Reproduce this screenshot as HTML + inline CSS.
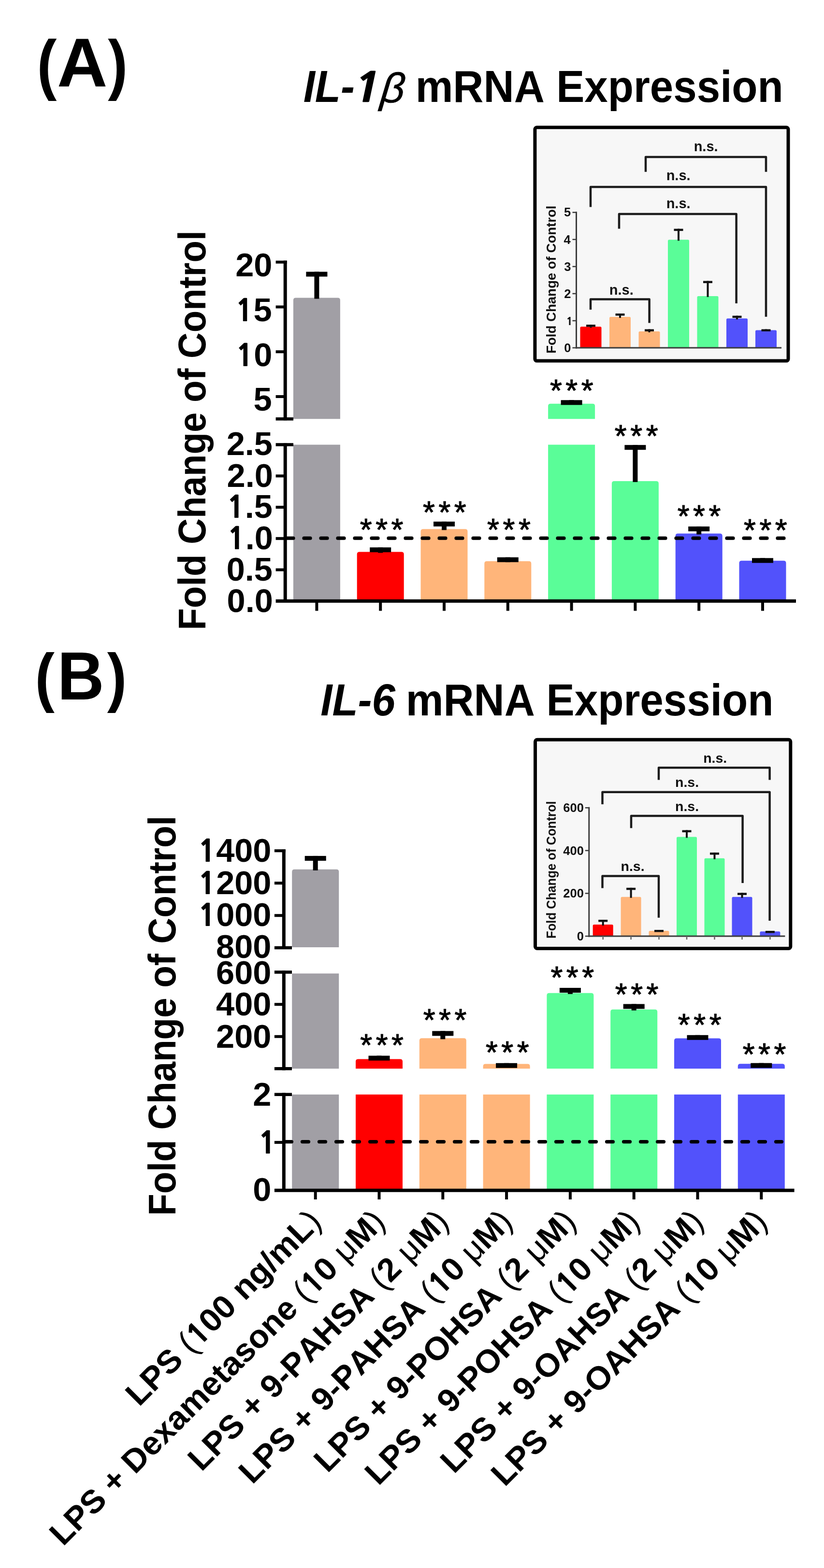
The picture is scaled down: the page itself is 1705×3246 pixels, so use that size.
<!DOCTYPE html>
<html><head><meta charset="utf-8"><title>IL-1β and IL-6 mRNA Expression</title>
<style>
html,body{margin:0;padding:0;background:#fff;}
body{width:1705px;height:3246px;overflow:hidden;}
svg{display:block;font-family:'Liberation Sans', Arial, sans-serif;font-kerning:none;font-variant-ligatures:none;}
</style></head><body>
<svg width="1705" height="3246" viewBox="0 0 1705 3246">
<rect x="0" y="0" width="1705" height="3246" fill="#fff"/>
<text transform="translate(76.48,179.56) scale(0.9000,1.0000)" font-size="136.43" font-weight="bold" fill="#000">(</text>
<text transform="translate(223.23,179.56) scale(0.9000,1.0000)" font-size="136.43" font-weight="bold" fill="#000">)</text>
<text transform="translate(118.1,179) scale(1.0109,1.0000)" font-size="142.88" font-weight="bold" fill="#000">A</text>
<text transform="translate(72.56,1448.19) scale(0.9000,1.0000)" font-size="134.82" font-weight="bold" fill="#000">(</text>
<text transform="translate(221.64,1448.19) scale(0.9000,1.0000)" font-size="134.82" font-weight="bold" fill="#000">)</text>
<text transform="translate(118.64,1447.9) scale(0.9463,1.0000)" font-size="141.57" font-weight="bold" fill="#000">B</text>
<text transform="translate(627.67,211.1) scale(1.0112,1.0766)" font-size="86" font-weight="bold" font-style="italic" fill="#000">IL-</text>
<text transform="translate(724.29,211.1) skewX(-12) scale(1.3000,1.0766)" font-size="86" font-weight="bold"><tspan font-family="NanumGothic, 'Liberation Sans', sans-serif" font-weight="800" font-size="77.66">1</tspan></text>
<text transform="translate(785.7,211.59) skewX(-6) scale(0.9963,1)" font-size="86.79" font-weight="normal" font-style="italic" stroke="#000" stroke-width="0.7">β</text>
<text transform="translate(859.64,211.1) scale(1.0167,1.0766)" font-size="86" font-weight="bold" fill="#000">mRNA</text>
<text transform="translate(1151.27,211.1) scale(1.0127,1.0766)" font-size="86" font-weight="bold" fill="#000">Expression</text>
<text transform="translate(663.27,1481.3) scale(1.0122,1.0783)" font-size="86" font-weight="bold" font-style="italic" fill="#000">IL-6</text>
<text transform="translate(839.74,1481.3) scale(1.0167,1.0783)" font-size="86" font-weight="bold" fill="#000">mRNA</text>
<text transform="translate(1130.57,1481.3) scale(1.0136,1.0783)" font-size="86" font-weight="bold" fill="#000">Expression</text>
<path d="M606.9,867.3 V621.5 Q606.9,616.5 611.9,616.5 H698.9 Q703.9,616.5 703.9,621.5 V867.3 Z" fill="#a19fa5"/>
<rect x="606.9" y="920.6" width="97" height="323.7" fill="#a19fa5"/>
<path d="M738.7,1244.3 V1147.5 Q738.7,1142.5 743.7,1142.5 H830.7 Q835.7,1142.5 835.7,1147.5 V1244.3 Z" fill="#ff0000"/>
<path d="M870.5,1244.3 V1100.3 Q870.5,1095.3 875.5,1095.3 H962.5 Q967.5,1095.3 967.5,1100.3 V1244.3 Z" fill="#ffb57a"/>
<path d="M1002.3,1244.3 V1166.8 Q1002.3,1161.8 1007.3,1161.8 H1094.3 Q1099.3,1161.8 1099.3,1166.8 V1244.3 Z" fill="#ffb57a"/>
<path d="M1134.1,867.3 V840.7 Q1134.1,835.7 1139.1,835.7 H1226.1 Q1231.1,835.7 1231.1,840.7 V867.3 Z" fill="#5afd98"/>
<rect x="1134.1" y="920.6" width="97" height="323.7" fill="#5afd98"/>
<path d="M1265.9,1244.3 V1000.9 Q1265.9,995.9 1270.9,995.9 H1357.9 Q1362.9,995.9 1362.9,1000.9 V1244.3 Z" fill="#5afd98"/>
<path d="M1397.7,1244.3 V1109.4 Q1397.7,1104.4 1402.7,1104.4 H1489.7 Q1494.7,1104.4 1494.7,1109.4 V1244.3 Z" fill="#5252fb"/>
<path d="M1529.5,1244.3 V1165.7 Q1529.5,1160.7 1534.5,1160.7 H1621.5 Q1626.5,1160.7 1626.5,1165.7 V1244.3 Z" fill="#5252fb"/>
<rect x="633.4" y="562.6" width="44" height="10" fill="#000"/>
<rect x="650.4" y="562.6" width="10" height="55.9" fill="#000"/>
<rect x="765.2" y="1133.2" width="44" height="10" fill="#000"/>
<rect x="782.2" y="1133.2" width="10" height="11.3" fill="#000"/>
<rect x="897" y="1079.8" width="44" height="10" fill="#000"/>
<rect x="914" y="1079.8" width="10" height="17.5" fill="#000"/>
<rect x="1028.8" y="1153.7" width="44" height="10" fill="#000"/>
<rect x="1045.8" y="1153.7" width="10" height="10.1" fill="#000"/>
<rect x="1160.6" y="828.3" width="44" height="10" fill="#000"/>
<rect x="1177.6" y="828.3" width="10" height="9.4" fill="#000"/>
<rect x="1292.4" y="921.2" width="44" height="10" fill="#000"/>
<rect x="1309.4" y="921.2" width="10" height="76.7" fill="#000"/>
<rect x="1424.2" y="1089.9" width="44" height="10" fill="#000"/>
<rect x="1441.2" y="1089.9" width="10" height="16.5" fill="#000"/>
<rect x="1556" y="1155.3" width="44" height="10" fill="#000"/>
<rect x="1573" y="1155.3" width="10" height="7.4" fill="#000"/>
<line x1="594" y1="1114.2" x2="1626.5" y2="1114.2" stroke="#000" stroke-width="7.2" stroke-dasharray="13 22" stroke-linecap="round"/>
<line x1="590.2" y1="539.6" x2="590.2" y2="870.3" stroke="#000" stroke-width="7" />
<line x1="570.6" y1="542.6" x2="593.7" y2="542.6" stroke="#000" stroke-width="6" />
<line x1="570.6" y1="635.4" x2="590.2" y2="635.4" stroke="#000" stroke-width="6" />
<line x1="570.6" y1="728.2" x2="590.2" y2="728.2" stroke="#000" stroke-width="6" />
<line x1="570.6" y1="821" x2="590.2" y2="821" stroke="#000" stroke-width="6" />
<line x1="570.6" y1="867.3" x2="607" y2="867.3" stroke="#000" stroke-width="6.5" />
<line x1="590.2" y1="917.4" x2="590.2" y2="1244.3" stroke="#000" stroke-width="7" />
<line x1="570.6" y1="920.6" x2="607" y2="920.6" stroke="#000" stroke-width="6.5" />
<line x1="570.6" y1="985.3" x2="590.2" y2="985.3" stroke="#000" stroke-width="6" />
<line x1="570.6" y1="1050.05" x2="590.2" y2="1050.05" stroke="#000" stroke-width="6" />
<line x1="570.6" y1="1114.8" x2="590.2" y2="1114.8" stroke="#000" stroke-width="6" />
<line x1="570.6" y1="1179.55" x2="590.2" y2="1179.55" stroke="#000" stroke-width="6" />
<line x1="570.6" y1="1244.3" x2="1647" y2="1244.3" stroke="#000" stroke-width="7" />
<line x1="655.4" y1="1244.3" x2="655.4" y2="1264.5" stroke="#000" stroke-width="6" />
<line x1="787.2" y1="1244.3" x2="787.2" y2="1264.5" stroke="#000" stroke-width="6" />
<line x1="919" y1="1244.3" x2="919" y2="1264.5" stroke="#000" stroke-width="6" />
<line x1="1050.8" y1="1244.3" x2="1050.8" y2="1264.5" stroke="#000" stroke-width="6" />
<line x1="1182.6" y1="1244.3" x2="1182.6" y2="1264.5" stroke="#000" stroke-width="6" />
<line x1="1314.4" y1="1244.3" x2="1314.4" y2="1264.5" stroke="#000" stroke-width="6" />
<line x1="1446.2" y1="1244.3" x2="1446.2" y2="1264.5" stroke="#000" stroke-width="6" />
<line x1="1578" y1="1244.3" x2="1578" y2="1264.5" stroke="#000" stroke-width="6" />
<text transform="translate(487.22,571.68)" font-size="68.5" font-weight="bold" fill="#000">20</text>
<text transform="translate(486.93,664.97)" font-size="68.5" font-weight="bold" fill="#000"><tspan font-family="NanumGothic, 'Liberation Sans', sans-serif" font-weight="800" font-size="61.86">1</tspan>5</text>
<text transform="translate(487.83,757.58)" font-size="68.5" font-weight="bold" fill="#000"><tspan font-family="NanumGothic, 'Liberation Sans', sans-serif" font-weight="800" font-size="61.86">1</tspan>0</text>
<text transform="translate(524.41,849.83)" font-size="68.5" font-weight="bold" fill="#000">5</text>
<text transform="translate(468.68,942.48)" font-size="68.5" font-weight="bold" fill="#000">2.5</text>
<text transform="translate(469.59,1007.88)" font-size="68.5" font-weight="bold" fill="#000">2.0</text>
<text transform="translate(469.29,1072.47)" font-size="68.5" font-weight="bold" fill="#000"><tspan font-family="NanumGothic, 'Liberation Sans', sans-serif" font-weight="800" font-size="61.86">1</tspan>.5</text>
<text transform="translate(470.2,1136.98)" font-size="68.5" font-weight="bold" fill="#000"><tspan font-family="NanumGothic, 'Liberation Sans', sans-serif" font-weight="800" font-size="61.86">1</tspan>.0</text>
<text transform="translate(468.68,1202.18)" font-size="68.5" font-weight="bold" fill="#000">0.5</text>
<text transform="translate(469.59,1267.08)" font-size="68.5" font-weight="bold" fill="#000">0.0</text>
<text transform="translate(425.2,1304.58) rotate(-90) scale(0.9428,1.0000)" font-size="79" font-weight="bold" fill="#000">Fold Change of Control</text>
<text x="744.73 777.13 809.53" y="1118.53" font-size="64" font-weight="normal" stroke="#000" stroke-width="1.1" stroke-linejoin="round">***</text>
<text x="874.98 907.38 939.78" y="1083.13" font-size="64" font-weight="normal" stroke="#000" stroke-width="1.1" stroke-linejoin="round">***</text>
<text x="1008.08 1040.48 1072.88" y="1119.23" font-size="64" font-weight="normal" stroke="#000" stroke-width="1.1" stroke-linejoin="round">***</text>
<text x="1137.88 1170.28 1202.68" y="831.23" font-size="64" font-weight="normal" stroke="#000" stroke-width="1.1" stroke-linejoin="round">***</text>
<text x="1271.83 1304.23 1336.63" y="925.23" font-size="64" font-weight="normal" stroke="#000" stroke-width="1.1" stroke-linejoin="round">***</text>
<text x="1401.63 1434.03 1466.43" y="1090.93" font-size="64" font-weight="normal" stroke="#000" stroke-width="1.1" stroke-linejoin="round">***</text>
<text x="1538.98 1571.38 1603.78" y="1119.83" font-size="64" font-weight="normal" stroke="#000" stroke-width="1.1" stroke-linejoin="round">***</text>
<path d="M604.2,1961 V1804.8 Q604.2,1799.8 609.2,1799.8 H696.2 Q701.2,1799.8 701.2,1804.8 V1961 Z" fill="#a19fa5"/>
<rect x="604.2" y="2015.3" width="97" height="197" fill="#a19fa5"/>
<rect x="604.2" y="2265.8" width="97" height="198.4" fill="#a19fa5"/>
<path d="M736,2212.3 V2197.6 Q736,2192.6 741,2192.6 H828 Q833,2192.6 833,2197.6 V2212.3 Z" fill="#ff0000"/>
<rect x="736" y="2265.8" width="97" height="198.4" fill="#ff0000"/>
<path d="M867.8,2212.3 V2154.3 Q867.8,2149.3 872.8,2149.3 H959.8 Q964.8,2149.3 964.8,2154.3 V2212.3 Z" fill="#ffb57a"/>
<rect x="867.8" y="2265.8" width="97" height="198.4" fill="#ffb57a"/>
<path d="M999.6,2212.3 V2207.4 Q999.6,2202.5 1004.5,2202.5 H1091.7 Q1096.6,2202.5 1096.6,2207.4 V2212.3 Z" fill="#ffb57a"/>
<rect x="999.6" y="2265.8" width="97" height="198.4" fill="#ffb57a"/>
<path d="M1131.4,2212.3 V2060.8 Q1131.4,2055.8 1136.4,2055.8 H1223.4 Q1228.4,2055.8 1228.4,2060.8 V2212.3 Z" fill="#5afd98"/>
<rect x="1131.4" y="2265.8" width="97" height="198.4" fill="#5afd98"/>
<path d="M1263.2,2212.3 V2094.7 Q1263.2,2089.7 1268.2,2089.7 H1355.2 Q1360.2,2089.7 1360.2,2094.7 V2212.3 Z" fill="#5afd98"/>
<rect x="1263.2" y="2265.8" width="97" height="198.4" fill="#5afd98"/>
<path d="M1395,2212.3 V2154.6 Q1395,2149.6 1400,2149.6 H1487 Q1492,2149.6 1492,2154.6 V2212.3 Z" fill="#5252fb"/>
<rect x="1395" y="2265.8" width="97" height="198.4" fill="#5252fb"/>
<path d="M1526.8,2212.3 V2207.3 Q1526.8,2202.3 1531.8,2202.3 H1618.8 Q1623.8,2202.3 1623.8,2207.3 V2212.3 Z" fill="#5252fb"/>
<rect x="1526.8" y="2265.8" width="97" height="198.4" fill="#5252fb"/>
<rect x="630.7" y="1771.9" width="44" height="10" fill="#000"/>
<rect x="647.7" y="1771.9" width="10" height="29.9" fill="#000"/>
<rect x="762.5" y="2185.5" width="44" height="10" fill="#000"/>
<rect x="779.5" y="2185.5" width="10" height="9.1" fill="#000"/>
<rect x="894.3" y="2134.4" width="44" height="10" fill="#000"/>
<rect x="911.3" y="2134.4" width="10" height="16.9" fill="#000"/>
<rect x="1026.1" y="2200.8" width="44" height="10" fill="#000"/>
<rect x="1043.1" y="2200.8" width="10" height="3.7" fill="#000"/>
<rect x="1157.9" y="2045" width="44" height="10" fill="#000"/>
<rect x="1174.9" y="2045" width="10" height="12.8" fill="#000"/>
<rect x="1289.7" y="2078.5" width="44" height="10" fill="#000"/>
<rect x="1306.7" y="2078.5" width="10" height="13.2" fill="#000"/>
<rect x="1421.5" y="2142.8" width="44" height="10" fill="#000"/>
<rect x="1438.5" y="2142.8" width="10" height="8.8" fill="#000"/>
<rect x="1553.3" y="2200.7" width="44" height="10" fill="#000"/>
<rect x="1570.3" y="2200.7" width="10" height="3.6" fill="#000"/>
<line x1="590.5" y1="2363.6" x2="1617.5" y2="2363.6" stroke="#000" stroke-width="7.2" stroke-dasharray="13 22" stroke-linecap="round"/>
<line x1="587.3" y1="1758.5" x2="587.3" y2="1965" stroke="#000" stroke-width="7" />
<line x1="567.9" y1="1761.2" x2="590.8" y2="1761.2" stroke="#000" stroke-width="6" />
<line x1="567.9" y1="1828.2" x2="587.3" y2="1828.2" stroke="#000" stroke-width="6" />
<line x1="567.9" y1="1895.2" x2="587.3" y2="1895.2" stroke="#000" stroke-width="6" />
<line x1="567.9" y1="1962" x2="604" y2="1962" stroke="#000" stroke-width="6.5" />
<line x1="587.3" y1="2009.4" x2="587.3" y2="2215.5" stroke="#000" stroke-width="7" />
<line x1="567.9" y1="2012.6" x2="604" y2="2012.6" stroke="#000" stroke-width="6.5" />
<line x1="567.9" y1="2079.2" x2="587.3" y2="2079.2" stroke="#000" stroke-width="6" />
<line x1="567.9" y1="2145.8" x2="587.3" y2="2145.8" stroke="#000" stroke-width="6" />
<line x1="567.9" y1="2212.3" x2="604" y2="2212.3" stroke="#000" stroke-width="6.5" />
<line x1="587.3" y1="2262.6" x2="587.3" y2="2464.2" stroke="#000" stroke-width="7" />
<line x1="567.9" y1="2265.8" x2="604" y2="2265.8" stroke="#000" stroke-width="6.5" />
<line x1="567.9" y1="2364.9" x2="587.3" y2="2364.9" stroke="#000" stroke-width="6" />
<line x1="567.9" y1="2464.2" x2="1643.6" y2="2464.2" stroke="#000" stroke-width="7" />
<line x1="652.7" y1="2464.2" x2="652.7" y2="2483" stroke="#000" stroke-width="6" />
<line x1="784.5" y1="2464.2" x2="784.5" y2="2483" stroke="#000" stroke-width="6" />
<line x1="916.3" y1="2464.2" x2="916.3" y2="2483" stroke="#000" stroke-width="6" />
<line x1="1048.1" y1="2464.2" x2="1048.1" y2="2483" stroke="#000" stroke-width="6" />
<line x1="1179.9" y1="2464.2" x2="1179.9" y2="2483" stroke="#000" stroke-width="6" />
<line x1="1311.7" y1="2464.2" x2="1311.7" y2="2483" stroke="#000" stroke-width="6" />
<line x1="1443.5" y1="2464.2" x2="1443.5" y2="2483" stroke="#000" stroke-width="6" />
<line x1="1575.3" y1="2464.2" x2="1575.3" y2="2483" stroke="#000" stroke-width="6" />
<text transform="translate(409.64,1784.38)" font-size="68.5" font-weight="bold" fill="#000"><tspan font-family="NanumGothic, 'Liberation Sans', sans-serif" font-weight="800" font-size="61.86">1</tspan>400</text>
<text transform="translate(409.64,1851.08)" font-size="68.5" font-weight="bold" fill="#000"><tspan font-family="NanumGothic, 'Liberation Sans', sans-serif" font-weight="800" font-size="61.86">1</tspan>200</text>
<text transform="translate(409.64,1917.28)" font-size="68.5" font-weight="bold" fill="#000"><tspan font-family="NanumGothic, 'Liberation Sans', sans-serif" font-weight="800" font-size="61.86">1</tspan>000</text>
<text transform="translate(447.12,1982.98)" font-size="68.5" font-weight="bold" fill="#000">800</text>
<text transform="translate(447.12,2036.78)" font-size="68.5" font-weight="bold" fill="#000">600</text>
<text transform="translate(447.12,2102.38)" font-size="68.5" font-weight="bold" fill="#000">400</text>
<text transform="translate(447.12,2168.88)" font-size="68.5" font-weight="bold" fill="#000">200</text>
<text transform="translate(523.25,2288.71)" font-size="68.5" font-weight="bold" fill="#000">2</text>
<text transform="translate(534.35,2387.81)" font-size="68.5" font-weight="bold" fill="#000"><tspan font-family="NanumGothic, 'Liberation Sans', sans-serif" font-weight="800" font-size="61.86">1</tspan></text>
<text transform="translate(523.31,2486.08)" font-size="68.5" font-weight="bold" fill="#000">0</text>
<text transform="translate(362.9,2516.79) rotate(-90) scale(0.9436,1.0000)" font-size="79" font-weight="bold" fill="#000">Fold Change of Control</text>
<text x="745.23 777.63 810.03" y="2186.13" font-size="64" font-weight="normal" stroke="#000" stroke-width="1.1" stroke-linejoin="round">***</text>
<text x="875.63 908.03 940.43" y="2134.03" font-size="64" font-weight="normal" stroke="#000" stroke-width="1.1" stroke-linejoin="round">***</text>
<text x="1004.93 1037.33 1069.73" y="2201.43" font-size="64" font-weight="normal" stroke="#000" stroke-width="1.1" stroke-linejoin="round">***</text>
<text x="1139.43 1171.83 1204.23" y="2046.33" font-size="64" font-weight="normal" stroke="#000" stroke-width="1.1" stroke-linejoin="round">***</text>
<text x="1272.73 1305.13 1337.53" y="2081.03" font-size="64" font-weight="normal" stroke="#000" stroke-width="1.1" stroke-linejoin="round">***</text>
<text x="1402.83 1435.23 1467.63" y="2143.73" font-size="64" font-weight="normal" stroke="#000" stroke-width="1.1" stroke-linejoin="round">***</text>
<text x="1536.63 1569.03 1601.43" y="2204.73" font-size="64" font-weight="normal" stroke="#000" stroke-width="1.1" stroke-linejoin="round">***</text>
<g transform="translate(287.66,2913.54) rotate(-45) scale(1.0198,1)"><text x="0" y="0" font-size="67.5" font-weight="bold">LPS </text><text x="150.03" y="0" font-size="67.5" font-weight="normal">(</text><text x="172.51" y="0" font-size="67.5" font-weight="bold"><tspan font-family="NanumGothic, 'Liberation Sans', sans-serif" font-weight="800" font-size="60.95">1</tspan>00 ng/mL</text><text x="505.75" y="0" font-size="67.5" font-weight="normal">)</text></g>
<g transform="translate(130.49,3202.51) rotate(-45) scale(1.0111,1)"><text x="0" y="0" font-size="67.5" font-weight="bold">LPS + Dexametasone </text><text x="703.44" y="0" font-size="67.5" font-weight="normal">(</text><text x="725.92" y="0" font-size="67.5" font-weight="bold"><tspan font-family="NanumGothic, 'Liberation Sans', sans-serif" font-weight="800" font-size="60.95">1</tspan>0 </text><text x="819.15" y="0" font-size="67.5" font-weight="normal">μ</text><text x="858.04" y="0" font-size="67.5" font-weight="bold">M</text><text x="914.27" y="0" font-size="67.5" font-weight="normal">)</text></g>
<g transform="translate(416.79,3048.01) rotate(-45) scale(1.0126,1)"><text x="0" y="0" font-size="67.5" font-weight="bold">LPS + 9-PAHSA </text><text x="523.26" y="0" font-size="67.5" font-weight="normal">(</text><text x="545.73" y="0" font-size="67.5" font-weight="bold">2 </text><text x="602.03" y="0" font-size="67.5" font-weight="normal">μ</text><text x="640.92" y="0" font-size="67.5" font-weight="bold">M</text><text x="697.15" y="0" font-size="67.5" font-weight="normal">)</text></g>
<g transform="translate(522.03,3074.57) rotate(-45) scale(1.0128,1)"><text x="0" y="0" font-size="67.5" font-weight="bold">LPS + 9-PAHSA </text><text x="523.26" y="0" font-size="67.5" font-weight="normal">(</text><text x="545.73" y="0" font-size="67.5" font-weight="bold"><tspan font-family="NanumGothic, 'Liberation Sans', sans-serif" font-weight="800" font-size="60.95">1</tspan>0 </text><text x="638.97" y="0" font-size="67.5" font-weight="normal">μ</text><text x="677.86" y="0" font-size="67.5" font-weight="bold">M</text><text x="734.09" y="0" font-size="67.5" font-weight="normal">)</text></g>
<g transform="translate(677.51,3050.89) rotate(-45) scale(1.0130,1)"><text x="0" y="0" font-size="67.5" font-weight="bold">LPS + 9-POHSA </text><text x="527.01" y="0" font-size="67.5" font-weight="normal">(</text><text x="549.49" y="0" font-size="67.5" font-weight="bold">2 </text><text x="605.79" y="0" font-size="67.5" font-weight="normal">μ</text><text x="644.68" y="0" font-size="67.5" font-weight="bold">M</text><text x="700.91" y="0" font-size="67.5" font-weight="normal">)</text></g>
<g transform="translate(782.95,3077.25) rotate(-45) scale(1.0128,1)"><text x="0" y="0" font-size="67.5" font-weight="bold">LPS + 9-POHSA </text><text x="527.01" y="0" font-size="67.5" font-weight="normal">(</text><text x="549.49" y="0" font-size="67.5" font-weight="bold"><tspan font-family="NanumGothic, 'Liberation Sans', sans-serif" font-weight="800" font-size="60.95">1</tspan>0 </text><text x="642.72" y="0" font-size="67.5" font-weight="normal">μ</text><text x="681.61" y="0" font-size="67.5" font-weight="bold">M</text><text x="737.84" y="0" font-size="67.5" font-weight="normal">)</text></g>
<g transform="translate(939.18,3052.82) rotate(-45) scale(1.0115,1)"><text x="0" y="0" font-size="67.5" font-weight="bold">LPS + 9-OAHSA </text><text x="530.74" y="0" font-size="67.5" font-weight="normal">(</text><text x="553.22" y="0" font-size="67.5" font-weight="bold">2 </text><text x="609.51" y="0" font-size="67.5" font-weight="normal">μ</text><text x="648.4" y="0" font-size="67.5" font-weight="bold">M</text><text x="704.63" y="0" font-size="67.5" font-weight="normal">)</text></g>
<g transform="translate(1044.25,3079.55) rotate(-45) scale(1.0121,1)"><text x="0" y="0" font-size="67.5" font-weight="bold">LPS + 9-OAHSA </text><text x="530.74" y="0" font-size="67.5" font-weight="normal">(</text><text x="553.22" y="0" font-size="67.5" font-weight="bold"><tspan font-family="NanumGothic, 'Liberation Sans', sans-serif" font-weight="800" font-size="60.95">1</tspan>0 </text><text x="646.45" y="0" font-size="67.5" font-weight="normal">μ</text><text x="685.34" y="0" font-size="67.5" font-weight="bold">M</text><text x="741.57" y="0" font-size="67.5" font-weight="normal">)</text></g>
<rect x="1106.9" y="263.7" width="524.1" height="483.4" rx="4" fill="#f7f7f7" stroke="#000" stroke-width="7"/>
<path d="M1200.5,720 V678.8 Q1200.5,676.3 1203,676.3 H1242 Q1244.5,676.3 1244.5,678.8 V720 Z" fill="#ff0000"/>
<path d="M1261,720 V658.6 Q1261,656.1 1263.5,656.1 H1302.5 Q1305,656.1 1305,658.6 V720 Z" fill="#ffb57a"/>
<path d="M1321.5,720 V688.5 Q1321.5,686 1324,686 H1363 Q1365.5,686 1365.5,688.5 V720 Z" fill="#ffb57a"/>
<path d="M1382,720 V498.8 Q1382,496.3 1384.5,496.3 H1423.5 Q1426,496.3 1426,498.8 V720 Z" fill="#5afd98"/>
<path d="M1442.5,720 V615.4 Q1442.5,612.9 1445,612.9 H1484 Q1486.5,612.9 1486.5,615.4 V720 Z" fill="#5afd98"/>
<path d="M1503,720 V661.7 Q1503,659.2 1505.5,659.2 H1544.5 Q1547,659.2 1547,661.7 V720 Z" fill="#5252fb"/>
<path d="M1563,720 V686.1 Q1563,683.6 1565.5,683.6 H1604.5 Q1607,683.6 1607,686.1 V720 Z" fill="#5252fb"/>
<rect x="1213" y="672.1" width="19" height="4.5" fill="#111"/>
<rect x="1220.5" y="672.1" width="4" height="6.2" fill="#111"/>
<rect x="1273.5" y="649" width="19" height="4.5" fill="#111"/>
<rect x="1281" y="649" width="4" height="9.1" fill="#111"/>
<rect x="1334" y="681.5" width="19" height="4.5" fill="#111"/>
<rect x="1341.5" y="681.5" width="4" height="6.5" fill="#111"/>
<rect x="1394.5" y="473.6" width="19" height="4.5" fill="#111"/>
<rect x="1402" y="473.6" width="4" height="24.7" fill="#111"/>
<rect x="1455" y="581.6" width="19" height="4.5" fill="#111"/>
<rect x="1462.5" y="581.6" width="4" height="33.3" fill="#111"/>
<rect x="1515.5" y="653.6" width="19" height="4.5" fill="#111"/>
<rect x="1523" y="653.6" width="4" height="7.6" fill="#111"/>
<rect x="1575.5" y="681.5" width="19" height="4.5" fill="#111"/>
<rect x="1583" y="681.5" width="4" height="4.1" fill="#111"/>
<line x1="1192.5" y1="438.2" x2="1192.5" y2="721.5" stroke="#3c3c3c" stroke-width="3" />
<line x1="1191" y1="720" x2="1617" y2="720" stroke="#3c3c3c" stroke-width="3" />
<line x1="1184.5" y1="720" x2="1192.5" y2="720" stroke="#3c3c3c" stroke-width="2.5" />
<text transform="translate(1167.36,728.78)" font-size="25.5" font-weight="bold" fill="#111">0</text>
<line x1="1184.5" y1="663.94" x2="1192.5" y2="663.94" stroke="#3c3c3c" stroke-width="2.5" />
<text transform="translate(1171.47,672.81)" font-size="25.5" font-weight="bold" fill="#111"><tspan font-family="NanumGothic, 'Liberation Sans', sans-serif" font-weight="800" font-size="23.03">1</tspan></text>
<line x1="1184.5" y1="607.88" x2="1192.5" y2="607.88" stroke="#3c3c3c" stroke-width="2.5" />
<text transform="translate(1167.34,616.78)" font-size="25.5" font-weight="bold" fill="#111">2</text>
<line x1="1184.5" y1="551.82" x2="1192.5" y2="551.82" stroke="#3c3c3c" stroke-width="2.5" />
<text transform="translate(1167.24,560.58)" font-size="25.5" font-weight="bold" fill="#111">3</text>
<line x1="1184.5" y1="495.76" x2="1192.5" y2="495.76" stroke="#3c3c3c" stroke-width="2.5" />
<text transform="translate(1166.46,504.53)" font-size="25.5" font-weight="bold" fill="#111">4</text>
<line x1="1184.5" y1="439.7" x2="1192.5" y2="439.7" stroke="#3c3c3c" stroke-width="2.5" />
<text transform="translate(1167.03,448.35)" font-size="25.5" font-weight="bold" fill="#111">5</text>
<path d="M1222,641 V619.5 H1343.6 V668.6" fill="none" stroke="#1c1c1c" stroke-width="4.5" stroke-linejoin="round"/>
<path d="M1281,473.6 V443 H1523.6 V628" fill="none" stroke="#1c1c1c" stroke-width="4.5" stroke-linejoin="round"/>
<path d="M1222,428.6 V387 H1585 V655.8" fill="none" stroke="#1c1c1c" stroke-width="4.5" stroke-linejoin="round"/>
<path d="M1336,355.7 V325 H1585 V355.7" fill="none" stroke="#1c1c1c" stroke-width="4.5" stroke-linejoin="round"/>
<text transform="translate(1260.76,609.5)" font-size="29" font-weight="bold" fill="#111">n.s.</text>
<text transform="translate(1378.66,430.8)" font-size="29" font-weight="bold" fill="#111">n.s.</text>
<text transform="translate(1378.66,373)" font-size="29" font-weight="bold" fill="#111">n.s.</text>
<text transform="translate(1435.66,312.9)" font-size="29" font-weight="bold" fill="#111">n.s.</text>
<text transform="translate(1150,731.85) rotate(-90) scale(1.0032,1.0000)" font-size="27.5" font-weight="bold" fill="#111">Fold Change of Control</text>
<rect x="1107.5" y="1531.3" width="528.3" height="432.2" rx="4" fill="#f7f7f7" stroke="#000" stroke-width="7"/>
<path d="M1226.7,1938 V1916.5 Q1226.7,1914 1229.2,1914 H1266.2 Q1268.7,1914 1268.7,1916.5 V1938 Z" fill="#ff0000"/>
<path d="M1284.6,1938 V1859.2 Q1284.6,1856.7 1287.1,1856.7 H1324.1 Q1326.6,1856.7 1326.6,1859.2 V1938 Z" fill="#ffb57a"/>
<path d="M1342.5,1938 V1929.5 Q1342.5,1927 1345,1927 H1382 Q1384.5,1927 1384.5,1929.5 V1938 Z" fill="#ffb57a"/>
<path d="M1400,1938 V1734.9 Q1400,1732.4 1402.5,1732.4 H1439.5 Q1442,1732.4 1442,1734.9 V1938 Z" fill="#5afd98"/>
<path d="M1457.5,1938 V1779.2 Q1457.5,1776.7 1460,1776.7 H1497 Q1499.5,1776.7 1499.5,1779.2 V1938 Z" fill="#5afd98"/>
<path d="M1514.5,1938 V1859.2 Q1514.5,1856.7 1517,1856.7 H1554 Q1556.5,1856.7 1556.5,1859.2 V1938 Z" fill="#5252fb"/>
<path d="M1572.4,1938 V1930.8 Q1572.4,1928.3 1574.9,1928.3 H1611.9 Q1614.4,1928.3 1614.4,1930.8 V1938 Z" fill="#5252fb"/>
<rect x="1238.2" y="1904" width="19" height="4.5" fill="#111"/>
<rect x="1245.7" y="1904" width="4" height="12" fill="#111"/>
<rect x="1296.1" y="1837.8" width="19" height="4.5" fill="#111"/>
<rect x="1303.6" y="1837.8" width="4" height="20.9" fill="#111"/>
<rect x="1354" y="1925" width="19" height="4.5" fill="#111"/>
<rect x="1361.5" y="1925" width="4" height="4" fill="#111"/>
<rect x="1411.5" y="1718.5" width="19" height="4.5" fill="#111"/>
<rect x="1419" y="1718.5" width="4" height="15.9" fill="#111"/>
<rect x="1469" y="1764.9" width="19" height="4.5" fill="#111"/>
<rect x="1476.5" y="1764.9" width="4" height="13.8" fill="#111"/>
<rect x="1526" y="1848.3" width="19" height="4.5" fill="#111"/>
<rect x="1533.5" y="1848.3" width="4" height="10.4" fill="#111"/>
<rect x="1583.9" y="1927" width="19" height="4.5" fill="#111"/>
<rect x="1591.4" y="1927" width="4" height="3.3" fill="#111"/>
<line x1="1218.8" y1="1670.7" x2="1218.8" y2="1939.5" stroke="#3c3c3c" stroke-width="3" />
<line x1="1217.3" y1="1938" x2="1624.4" y2="1938" stroke="#3c3c3c" stroke-width="3" />
<line x1="1210.8" y1="1938" x2="1218.8" y2="1938" stroke="#3c3c3c" stroke-width="2.5" />
<text transform="translate(1193.66,1946.78)" font-size="25.5" font-weight="bold" fill="#111">0</text>
<line x1="1210.8" y1="1849.4" x2="1218.8" y2="1849.4" stroke="#3c3c3c" stroke-width="2.5" />
<text transform="translate(1165.3,1858.18)" font-size="25.5" font-weight="bold" fill="#111">200</text>
<line x1="1210.8" y1="1760.8" x2="1218.8" y2="1760.8" stroke="#3c3c3c" stroke-width="2.5" />
<text transform="translate(1165.3,1769.58)" font-size="25.5" font-weight="bold" fill="#111">400</text>
<line x1="1210.8" y1="1672.2" x2="1218.8" y2="1672.2" stroke="#3c3c3c" stroke-width="2.5" />
<text transform="translate(1165.3,1680.98)" font-size="25.5" font-weight="bold" fill="#111">600</text>
<line x1="1247.7" y1="1938" x2="1247.7" y2="1945" stroke="#666" stroke-width="2.5" />
<line x1="1305.6" y1="1938" x2="1305.6" y2="1945" stroke="#666" stroke-width="2.5" />
<line x1="1363.5" y1="1938" x2="1363.5" y2="1945" stroke="#666" stroke-width="2.5" />
<line x1="1421" y1="1938" x2="1421" y2="1945" stroke="#666" stroke-width="2.5" />
<line x1="1478.5" y1="1938" x2="1478.5" y2="1945" stroke="#666" stroke-width="2.5" />
<line x1="1535.5" y1="1938" x2="1535.5" y2="1945" stroke="#666" stroke-width="2.5" />
<line x1="1593.4" y1="1938" x2="1593.4" y2="1945" stroke="#666" stroke-width="2.5" />
<path d="M1246.5,1838.6 V1813.5 H1363 V1899.7" fill="none" stroke="#1c1c1c" stroke-width="4.5" stroke-linejoin="round"/>
<path d="M1306,1714.3 V1689 H1536.6 V1828" fill="none" stroke="#1c1c1c" stroke-width="4.5" stroke-linejoin="round"/>
<path d="M1246.5,1665 V1639.8 H1592.6 V1906" fill="none" stroke="#1c1c1c" stroke-width="4.5" stroke-linejoin="round"/>
<path d="M1363,1614.5 V1589.2 H1592.6 V1614.5" fill="none" stroke="#1c1c1c" stroke-width="4.5" stroke-linejoin="round"/>
<text transform="translate(1284.49,1802.8)" font-size="28.5" font-weight="bold" fill="#111">n.s.</text>
<text transform="translate(1396.99,1678.5)" font-size="28.5" font-weight="bold" fill="#111">n.s.</text>
<text transform="translate(1396.99,1629.2)" font-size="28.5" font-weight="bold" fill="#111">n.s.</text>
<text transform="translate(1455.19,1578.7)" font-size="28.5" font-weight="bold" fill="#111">n.s.</text>
<text transform="translate(1150,1943.02) rotate(-90) scale(0.9323,1.0000)" font-size="27.5" font-weight="bold" fill="#111">Fold Change of Control</text>
</svg>
</body></html>
